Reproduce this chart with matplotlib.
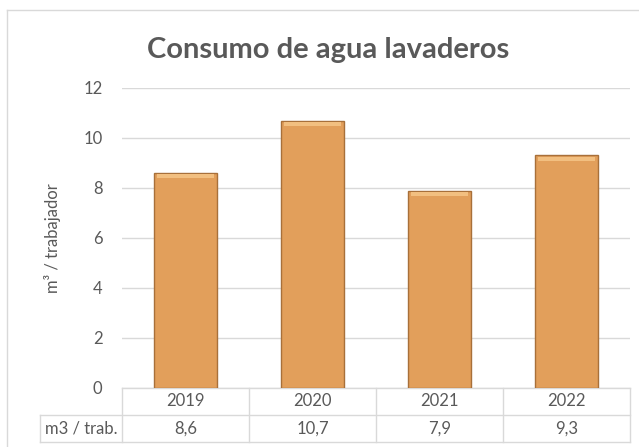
import matplotlib.pyplot as plt
from matplotlib.lines import Line2D

years = ['2019', '2020', '2021', '2022']
values = [8.6, 10.7, 7.9, 9.3]
value_labels = ['8,6', '10,7', '7,9', '9,3']
row_label = 'm3 / trab.'
yticks = [0, 2, 4, 6, 8, 10, 12]

W, H = 639, 447
TXT = '#595959'
GRID = '#D9D9D9'
FS = 12
plt.rcParams['font.family'] = ['Lato', 'DejaVu Sans']

fig = plt.figure(figsize=(W / 100, H / 100), dpi=100)

# outer chart border (only left and top fall inside the picture)
fig.lines.append(Line2D([6.5 / W, 6.5 / W], [0, 1 - 10 / H], transform=fig.transFigure,
                        color=GRID, linewidth=1))
fig.lines.append(Line2D([6.5 / W, 1], [1 - 10 / H, 1 - 10 / H], transform=fig.transFigure,
                        color=GRID, linewidth=1))

left, right, top, bottom = 122, 630, 88, 388
ax = fig.add_axes([left / W, (H - bottom) / H, (right - left) / W, (bottom - top) / H])
ax.set_xlim(-0.5, len(years) - 0.5)
ax.set_ylim(0, 12)
ax.set_yticks(yticks)
ax.tick_params(axis='y', length=0, pad=14, labelsize=FS, labelcolor=TXT)
ax.tick_params(axis='x', bottom=False, labelbottom=False)
for s in ax.spines.values():
    s.set_visible(False)
ax.grid(axis='y', color=GRID, linewidth=1)
ax.set_axisbelow(True)

x = list(range(len(years)))
ax.bar(x, values, width=0.5, color='#E29F5B', edgecolor='#A8703A', linewidth=1, zorder=3)
# light bevel on top of each bar
ax.bar(x, [0.16] * len(values), bottom=[v - 0.2 for v in values], width=0.45,
       color='#F2BF80', linewidth=0, zorder=4)

ax.set_ylabel('m³ / trabajador', color=TXT, fontsize=FS, labelpad=16)
fig.text(328 / W, 1 - 50 / H, 'Consumo de agua lavaderos', ha='center', va='center',
         fontsize=21, fontweight='bold', color=TXT)

# data table below the axis (data units: 25 px per unit)
rh = 27 / 25
lab_left = -0.5 - (left - 40) / 127
kw = dict(color=GRID, linewidth=1, clip_on=False, transform=ax.transData)
ax.add_line(Line2D([-0.5, 3.5], [0, 0], **kw))
ax.add_line(Line2D([lab_left, 3.5], [-rh, -rh], **kw))
ax.add_line(Line2D([lab_left, 3.5], [-2 * rh, -2 * rh], **kw))
ax.add_line(Line2D([lab_left, lab_left], [-rh, -2 * rh], **kw))
for i in range(len(years) + 1):
    ax.add_line(Line2D([i - 0.5, i - 0.5], [0, -2 * rh], **kw))
for i, (yr, lab) in enumerate(zip(years, value_labels)):
    ax.text(i, -rh / 2, yr, ha='center', va='center', fontsize=FS, color=TXT, clip_on=False)
    ax.text(i, -1.5 * rh, lab, ha='center', va='center', fontsize=FS, color=TXT, clip_on=False)
ax.text((lab_left - 0.5) / 2, -1.5 * rh, row_label, ha='center', va='center', fontsize=FS,
        color=TXT, clip_on=False)

fig.savefig('out.png', dpi=100)
